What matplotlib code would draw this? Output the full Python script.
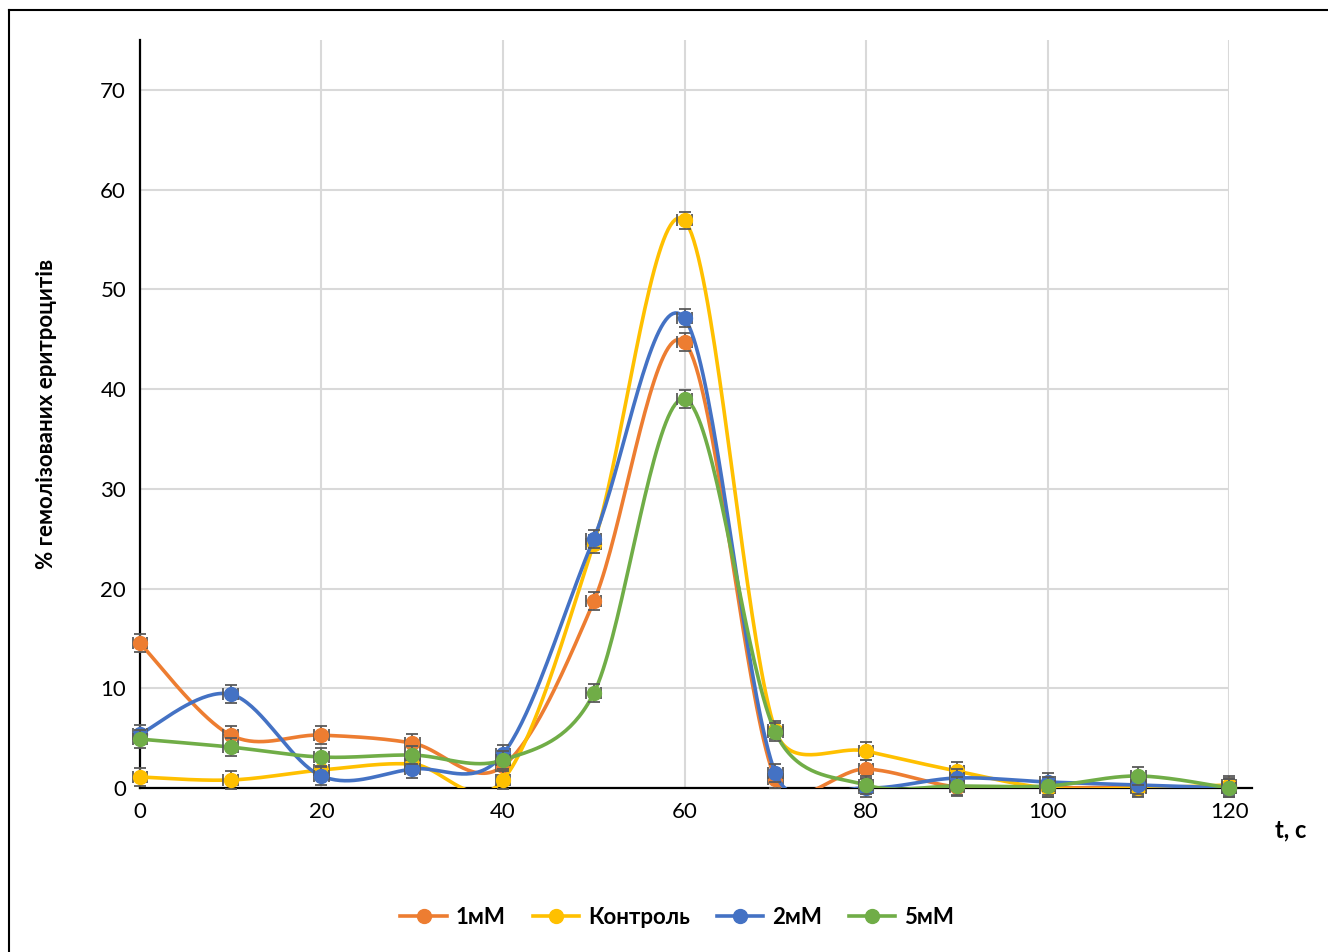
import numpy as np
import matplotlib
matplotlib.use("Agg")
import matplotlib.pyplot as plt
from matplotlib.lines import Line2D

# time points, s
t = [0, 10, 20, 30, 40, 50, 60, 70, 80, 90, 100, 110, 120]

# % haemolysed erythrocytes per series
s_1mM = [14.5, 5.3, 5.3, 4.5, 2.2, 18.7, 44.7, 0.9, 1.9, 0.1, 0.0, 0.1, 0.1]
s_ctrl = [1.1, 0.8, 1.8, 2.4, 0.8, 24.5, 56.9, 5.8, 3.7, 1.7, 0.0, 0.0, 0.3]
s_2mM = [5.4, 9.4, 1.2, 1.9, 3.4, 25.0, 47.1, 1.5, 0.0, 1.0, 0.6, 0.3, 0.0]
s_5mM = [4.9, 4.1, 3.1, 3.3, 2.8, 9.5, 39.0, 5.6, 0.3, 0.2, 0.2, 1.2, 0.0]

labels = ["1мМ", "Контроль", "2мМ", "5мМ"]
colors = ["#ED7D31", "#FFC000", "#4472C4", "#70AD47"]
series = [s_1mM, s_ctrl, s_2mM, s_5mM]

y_err = 0.9
x_err = 0.8

plt.rcParams['font.family'] = ['Lato', 'DejaVu Sans']


def handle(v, seg_len, cap=0.5):
    # limit bezier handle to a share of the segment length
    n = np.hypot(*v)
    if n > cap * seg_len and n > 0:
        v = v * (cap * seg_len / n)
    return v


def smooth(xs, ys, n=40):
    # excel-like bezier smoothing, done in roughly pixel-proportional space
    sx, sy = 9.075, 9.99
    p = np.column_stack([np.array(xs) * sx, np.array(ys) * sy])
    pts = np.vstack([p[0], p, p[-1]])
    out = []
    u = np.linspace(0, 1, n)[:, None]
    for i in range(1, len(pts) - 2):
        p0, p1, p2, p3 = pts[i - 1], pts[i], pts[i + 1], pts[i + 2]
        d12 = np.hypot(*(p2 - p1))
        c1 = p1 + handle((p2 - p0) / 6, d12)
        c2 = p2 - handle((p3 - p1) / 6, d12)
        seg = ((1 - u) ** 3) * p1 + 3 * ((1 - u) ** 2) * u * c1 + 3 * (1 - u) * u ** 2 * c2 + u ** 3 * p2
        out.append(seg if i == 1 else seg[1:])
    out = np.vstack(out)
    return out[:, 0] / sx, out[:, 1] / sy


fig = plt.figure(figsize=(13.28, 9.52), dpi=100)
ax = fig.add_axes([0.1054, 0.1723, 0.8201, 0.7857])

for k, (ys, c) in enumerate(zip(series, colors)):
    xx, yy = smooth(t, ys)
    z = 3 + k
    ax.plot(xx, yy, color=c, lw=2.6, zorder=z, solid_capstyle='round')
    eb = ax.errorbar(t, ys, yerr=y_err, xerr=x_err, fmt='none', ecolor='#595959',
                     elinewidth=1.3, capsize=4, capthick=1.3, zorder=z)
    for a in eb.lines[1] + eb.lines[2]:
        a.set_clip_on(False)
    ax.plot(t, ys, 'o', color=c, ms=10, zorder=z + 0.5, clip_on=False)

ax.set_xlim(0, 120)
ax.set_ylim(0, 75)
ax.set_xticks(range(0, 121, 20))
ax.set_yticks(range(0, 71, 10))
ax.tick_params(length=0, labelsize=16, pad=10)
ax.grid(True, color='#d9d9d9', lw=1.5)
ax.set_axisbelow(True)
for sp in ['top', 'right']:
    ax.spines[sp].set_visible(False)
ax.spines['left'].set_linewidth(1.6)
ax.spines['bottom'].set_linewidth(1.6)
ax.spines['bottom'].set_bounds(0, 122.5)
ax.spines['bottom'].set_clip_on(False)

ax.set_ylabel('% гемолізованих еритроцитів', fontsize=16, fontweight='bold')
ax.yaxis.set_label_coords(-0.076, 0.5)
fig.text(0.972, 0.128, 't, с', fontsize=17, fontweight='bold', ha='center', va='center')

handles = [Line2D([0], [0], color=c, lw=2.6, marker='o', ms=10) for c in colors]
fig.legend(handles, labels, loc='center', bbox_to_anchor=(0.51, 0.036), ncol=4,
           frameon=False, handlelength=2.1, handletextpad=0.4, columnspacing=1.2,
           prop={'weight': 'bold', 'size': 16})

# outer frame of the cropped chart area
fig.add_artist(Line2D([9 / 1328, 1], [1 - 10 / 952, 1 - 10 / 952], color='black', lw=1.5,
                      transform=fig.transFigure))
fig.add_artist(Line2D([9 / 1328, 9 / 1328], [0, 1 - 10 / 952], color='black', lw=1.5,
                      transform=fig.transFigure))

fig.savefig('out.png', dpi=100)
